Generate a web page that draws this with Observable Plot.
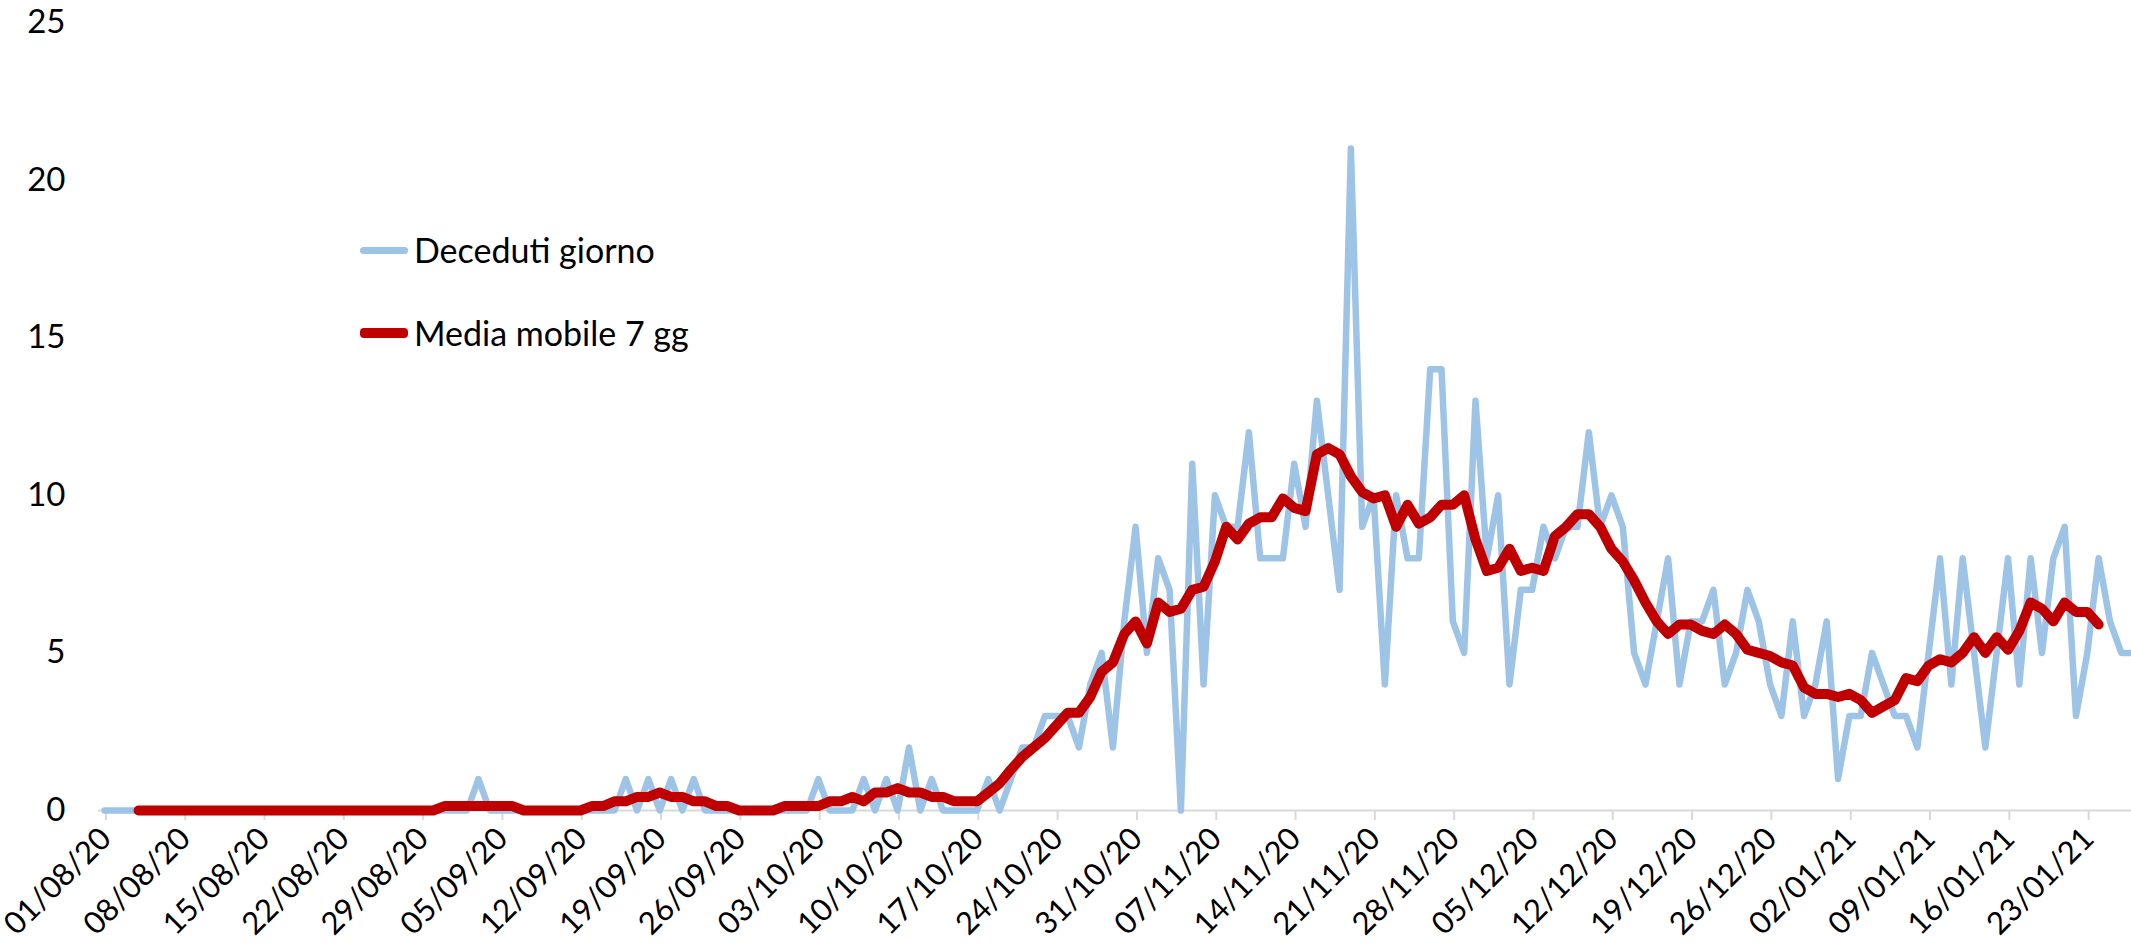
<!DOCTYPE html>
<html><head><meta charset="utf-8">
<script src="https://cdn.jsdelivr.net/npm/d3@7"></script>
<script src="https://cdn.jsdelivr.net/npm/@observablehq/plot@0.6"></script>
<style>
html,body{margin:0;padding:0;background:#fff;overflow:hidden}
#wrap{position:relative;width:2131px;height:943px}
.leg{position:absolute;left:360px;font-family:Lato,sans-serif;font-size:34px;color:#000;display:flex;align-items:center;white-space:nowrap;line-height:1}
.leg .sw{width:48px;margin-right:6px;border-radius:4px}
</style></head><body><div id="wrap"></div>
<script>
// daily deaths from 01/08/20 (one value per day)
const startDate = "01/08/20";
const deceduti = [
0,0,0,0,0,0,0,0,0,0,0,0,0,0,0,0,0,0,0,0,0,0,0,0,0,0,0,0,0,0,0,0,0,
1,
0,0,0,0,0,0,0,0,0,0,0,0,
1,0,1,0,1,0,1,
0,0,0,0,0,0,0,0,0,0,
1,
0,0,0,
1,0,1,0,2,0,1,
0,0,0,0,
1,0,1,2,2,3,3,3,2,4,5,2,6,9,5,8,7,0,
11,4,10,9,9,12,8,8,8,11,9,13,10,7,21,9,10,4,10,8,
8,14,14,6,5,13,8,10,4,7,7,9,8,9,9,12,9,10,9,5,
4,6,8,4,6,6,7,4,5,7,6,4,3,6,3,4,6,1,3,3,
5,4,3,3,2,5,8,4,8,5,2,5,8,4,8,5,8,9,3,5,8,6,5,5
];
// 7-day moving average (centered), same days
const mediaMobile = [
null,null,null,
0,0,0,0,0,0,0,0,0,0,0,0,0,0,0,0,0,0,0,0,0,0,0,0,0,0,0,
0.14,0.14,0.14,0.14,0.14,0.14,0.14,
0,0,0,0,0,0,
0.14,0.14,0.29,0.29,0.43,0.43,0.57,0.43,0.43,0.29,0.29,0.14,0.14,
0,0,0,0,
0.14,0.14,0.14,0.14,
0.29,0.29,0.43,0.29,0.57,0.57,0.71,0.57,0.57,0.43,0.43,0.29,0.29,0.29,0.57,0.86,
1.3,1.7,2.0,2.3,2.7,3.1,3.1,3.6,4.4,4.7,5.6,6.0,5.3,6.6,6.3,6.4,7.0,7.1,7.9,9.0,
8.6,9.1,9.3,9.3,9.9,9.6,9.5,11.3,11.5,11.3,10.6,10.1,9.9,10.0,9.0,9.7,9.1,9.3,9.7,9.7,
10.0,8.6,7.6,7.7,8.3,7.6,7.7,7.6,8.7,9.0,9.4,9.4,9.0,8.3,7.9,7.3,6.6,6.0,5.6,5.9,
5.9,5.7,5.6,5.9,5.6,5.1,5.0,4.9,4.7,4.6,3.9,3.7,3.7,3.6,3.7,3.5,3.1,3.3,3.5,4.2,
4.1,4.6,4.8,4.7,5.0,5.5,5.0,5.5,5.1,5.7,6.6,6.4,6.0,6.6,6.3,6.3,5.9,
null,null,null
];
const tickLabels = ["01/08/20","08/08/20","15/08/20","22/08/20","29/08/20","05/09/20","12/09/20","19/09/20","26/09/20","03/10/20","10/10/20","17/10/20","24/10/20","31/10/20","07/11/20","14/11/20","21/11/20","28/11/20","05/12/20","12/12/20","19/12/20","26/12/20","02/01/21","09/01/21","16/01/21","23/01/21"];
const endLabel = "28/01/21";
const yTicks = [0,5,10,15,20,25];
const seriesNames = ["Deceduti giorno","Media mobile 7 gg"];
const colors = ["#9DC3E6","#C00000"];

const parse = s => { const [d,m,y] = s.split("/").map(Number); return new Date(Date.UTC(2000+y, m-1, d)); };
const DAY = 864e5;
const t0 = parse(startDate).getTime();
const rows = deceduti.map((v,i)=>({date:new Date(t0 + i*DAY + DAY/2), v, m: mediaMobile[i]}));
const tickDates = tickLabels.map(parse);
const labelOf = new Map(tickDates.map((d,i)=>[+d, tickLabels[i]]));

const chart = Plot.plot({
  width:2131, height:943, marginLeft:98, marginRight:0, marginTop:22, marginBottom:133,
  style:{fontFamily:"Lato, sans-serif", fontSize:"33px", color:"#000", background:"#fff"},
  x:{type:"utc", domain:[parse(startDate), parse(endLabel)], range:[98.4, 2137.8], label:null},
  y:{domain:[0,25], label:null},
  marks:[
    Plot.ruleY([0], {stroke:"#d9d9d9", strokeWidth:2}),
    Plot.axisX({ticks: tickDates, tickFormat: d => labelOf.get(+d), tickRotate:-45, tickSize:10, tickPadding:13, dx:7, stroke:"#d9d9d9", strokeWidth:2, fill:"#000", fontSize:31, label:null}),
    Plot.axisY({ticks: yTicks, tickSize:0, tickPadding:33, fill:"#000", fontSize:33, label:null}),
    Plot.line(rows, {x:"date", y:"v", stroke:colors[0], strokeWidth:6.5, strokeLinejoin:"round", strokeLinecap:"round"}),
    Plot.line(rows, {x:"date", y:"m", stroke:colors[1], strokeWidth:10, strokeLinejoin:"round", strokeLinecap:"round"})
  ]
});
const wrap = document.getElementById("wrap");
wrap.appendChild(chart);
[[250, 7],[333, 10]].forEach(([top, sw], i) => {
  const el = document.createElement("div");
  el.className = "leg";
  el.style.top = (top - 17) + "px";
  el.innerHTML = `<span class="sw" style="height:${sw}px;background:${colors[i]}"></span><span>${seriesNames[i]}</span>`;
  wrap.appendChild(el);
});
</script></body></html>
